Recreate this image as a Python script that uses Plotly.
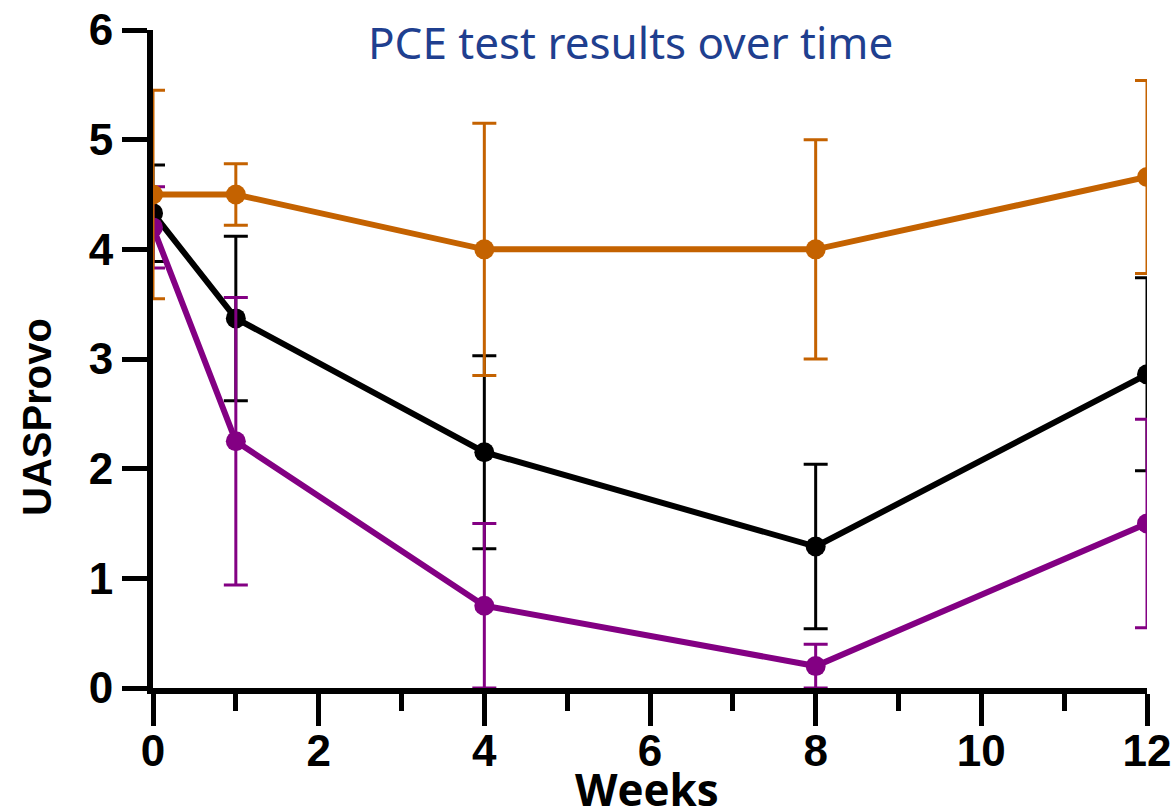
import plotly.graph_objects as go

weeks = [0, 1, 4, 8, 12]

orange_mean = [4.5, 4.5, 4.0, 4.0, 4.66]
orange_err = [0.95, 0.28, 1.15, 1.0, 0.88]

black_mean = [4.33, 3.37, 2.15, 1.29, 2.86]
black_err = [0.44, 0.75, 0.88, 0.75, 0.88]

purple_mean = [4.2, 2.25, 0.75, 0.2, 1.5]
purple_err = [0.37, 1.31, 0.75, 0.2, 0.95]

x_ticks = [0, 2, 4, 6, 8, 10, 12]
y_ticks = [0, 1, 2, 3, 4, 5, 6]

ORANGE = "#C46200"
PURPLE = "#830083"
BLACK = "#000000"

W, H = 1176, 811
L, T = 153, 30
PW, PH = 994, 658
R, B = W - L - PW, H - T - PH


def px_x(px):
    return (px - L) / PW


def px_y(py):
    return 1 - (py - T) / PH


fig = go.Figure()

for mean, err, color in [(black_mean, black_err, BLACK),
                         (purple_mean, purple_err, PURPLE),
                         (orange_mean, orange_err, ORANGE)]:
    fig.add_trace(go.Scatter(
        x=weeks, y=mean, mode="lines+markers",
        line=dict(color=color, width=6),
        marker=dict(color=color, size=20),
        error_y=dict(type="data", array=err, visible=True,
                     color=color, thickness=3, width=12),
        showlegend=False, cliponaxis=True,
    ))

tick_font = dict(family="Liberation Sans, Arial, sans-serif", size=44, color="black", weight="bold")

fig.update_layout(
    width=W, height=H,
    margin=dict(l=L, r=R, t=T, b=B, autoexpand=False),
    paper_bgcolor="white", plot_bgcolor="white",
    xaxis=dict(range=[0, 12], tickvals=x_ticks, showline=True, linewidth=6, linecolor="black",
               ticks="outside", ticklen=32, tickwidth=5, tickcolor="black",
               minor=dict(ticks="outside", ticklen=17, tickwidth=5, tickcolor="black", dtick=1, tick0=0, showgrid=False),
               showgrid=False, zeroline=False, tickfont=tick_font, ticklabelstandoff=-13,
               ticklabeloverflow="allow"),
    yaxis=dict(range=[0, 6], tickvals=y_ticks, showline=True, linewidth=6, linecolor="black",
               ticks="outside", ticklen=25, tickwidth=5, tickcolor="black",
               showgrid=False, zeroline=False, tickfont=tick_font, ticklabeloverflow="allow"),
    annotations=[
        dict(text="PCE test results over time", x=px_x(630), y=px_y(42),
             xref="paper", yref="paper", showarrow=False, xanchor="center", yanchor="middle",
             font=dict(family="Noto Sans, Open Sans, sans-serif", size=44, color="#1F3F8F")),
        dict(text="UASProvo", x=px_x(37), y=px_y(417), textangle=-90,
             xref="paper", yref="paper", showarrow=False, xanchor="center", yanchor="middle",
             font=dict(family="Liberation Sans, Arial, sans-serif", size=40, color="black", weight="bold")),
        dict(text="Weeks", x=px_x(647), y=px_y(789),
             xref="paper", yref="paper", showarrow=False, xanchor="center", yanchor="middle",
             font=dict(family="Open Sans, sans-serif", size=44, color="black", weight="bold")),
    ],
)

fig.write_html("out.html", config={"displayModeBar": False},
               post_script="document.body.style.margin='0';document.body.style.overflow='hidden';")
